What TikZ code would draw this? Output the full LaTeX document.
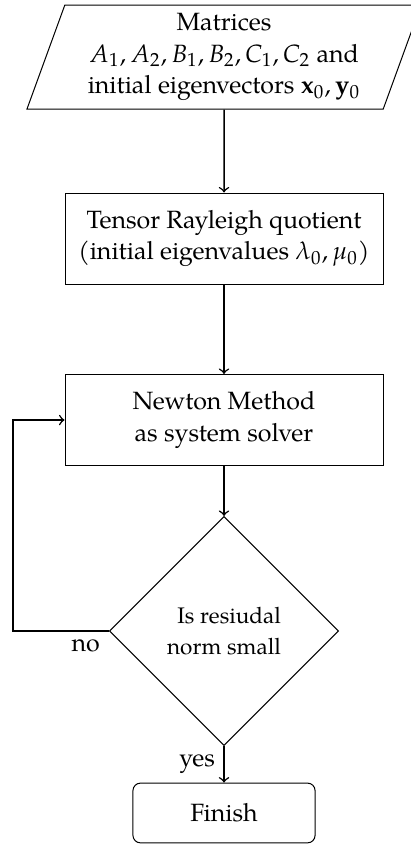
\documentclass[tikz,border=0pt]{standalone}
\usepackage{mathpazo}
\usepackage{amsmath}
\usepackage[no-math]{fontspec}
\setmainfont{TeX Gyre Pagella}
\usetikzlibrary{shapes.geometric,arrows}
\linespread{1.05}

\begin{document}
\begin{tikzpicture}[
    io/.style={draw, trapezium, trapezium left angle=70, trapezium right angle=110,
      trapezium stretches body, minimum width=5.54cm, minimum height=1.46cm, align=center},
    process/.style={draw, rectangle, minimum width=4.47cm, minimum height=1.28cm, align=center},
    decision/.style={draw, diamond, aspect=1, minimum size=3.22cm, align=right, font=\small},
    stopbox/.style={draw, rectangle, rounded corners=3pt, minimum width=2.56cm, minimum height=0.84cm},
    flow/.style={->, semithick}
  ]
      \useasboundingbox (-3.149,-5.974) rectangle (2.628,5.904);
      % blocks
      \node[io] (input) at (0,5.102) {Matrices\\ $A_1, A_2, B_1, B_2, C_1, C_2$ and\\ initial eigenvectors $\mathbf{x}_0, \mathbf{y}_0$};
      \node[process] (rayleigh) at (0,2.551) {Tensor Rayleigh quotient\\ (initial eigenvalues $\lambda_0, \mu_0$)};
      \node[process] (newton) at (0,0) {Newton Method\\ as system solver};
      \node[decision] (check) at (0,-2.966) {Is resiudal\\[1.2pt] norm small};
      \node[stopbox] (finish) at (0,-5.524) {Finish};
      \coordinate (back) at (-2.966,-2.966);
      % arrows
      \draw[flow] (input) -- (rayleigh);
      \draw[flow] (rayleigh) -- (newton);
      \draw[flow] (newton) -- (check);
      \draw[flow] (check) -- node[left] {yes} (finish);
      \draw[flow] (check.west) node[below left] {no} -- (back) |- (newton.west);
    \end{tikzpicture}
\end{document}
